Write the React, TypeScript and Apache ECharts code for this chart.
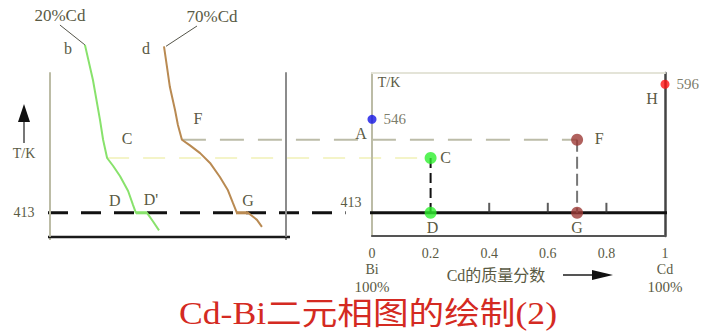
import React, { useEffect, useRef } from "react";
import * as echarts from "echarts";

// temperature range shared by both panels (K)
const TEMP_MIN = 380;
const TEMP_MAX = 612;
const EUTECTIC = 413;

// cooling curve b: 20% Cd sample  [time, T/K]
const curve20Time = [14.8, 18.2, 21.2, 22.5, 24.2, 26.7, 29.7, 33.1, 35.2, 36.4, 41.1, 43.6, 46.2];
const curve20Temp = [652, 602, 545, 517, 491, 480, 465, 444, 424, 413, 413, 401, 388];
const CURVE20_KNEE = 4;
const CURVE20_PLATEAU = [9, 10];

// cooling curve d: 70% Cd sample  [time, T/K]
const curve70Time = [48.3, 49.6, 50.8, 53.0, 54.2, 55.9, 59.3, 63.6, 67.8, 72.0, 75.4, 77.5, 79.2, 83.9, 87.7, 89.8];
const curve70Temp = [650, 620, 592, 559, 538, 517, 509, 498, 484, 464, 445, 427, 413, 413, 403, 393];
const CURVE70_KNEE = 5;
const CURVE70_PLATEAU = [12, 13];

// points of the phase diagram
const pointNames = ["A", "C", "D", "F", "G", "H"];
const pointCd = [0, 0.2, 0.2, 0.7, 0.7, 1];
const pointTemp = [546, 491, 413, 517, 413, 596];
const pointColors = ["#1414e6", "#2ef02e", "#2ef02e", "#9c3a36", "#9c3a36", "#ff1414"];

// small marks along the eutectic line
const eutecticTicks = [0.4, 0.6, 0.8];

const INK = "#5a5a44";
const SERIF = "'Liberation Serif', 'DejaVu Serif', serif";
const CJK = "'Liberation Serif', 'Noto Sans CJK SC', sans-serif";

const zip = (a: number[], b: number[]) => a.map((v, i) => [v, b[i]]);

function text(x: number, y: number, s: string, size = 15, extra: any = {}) {
  return {
    type: "text",
    x,
    y,
    silent: true,
    style: {
      text: s,
      fill: INK,
      fontSize: size,
      fontFamily: SERIF,
      textAlign: "center",
      textVerticalAlign: "middle",
      verticalAlign: "middle",
      ...extra,
    },
  };
}

function line(x1: number, y1: number, x2: number, y2: number, stroke: string, lineWidth = 1, lineDash?: number[]) {
  return {
    type: "line",
    silent: true,
    shape: { x1, y1, x2, y2 },
    style: { stroke, lineWidth, lineDash },
  };
}

export default function App() {
  const ref = useRef<HTMLDivElement>(null);

  useEffect(() => {
    if (!ref.current) return;
    const chart = echarts.init(ref.current, undefined, { renderer: "svg" });

    const hidden = { show: false };
    const axisLine = (color: string, width: number) => ({ show: true, onZero: false, lineStyle: { color, width } });
    const option: any = {
      animation: false,
      backgroundColor: "#ffffff",
      grid: [
        { left: 50, top: 73, width: 236, height: 163 },
        { left: 372, top: 73, width: 293, height: 163 },
      ],
      xAxis: [
        {
          gridIndex: 0, type: "value", min: 0, max: 100,
          axisLine: hidden, axisTick: hidden, axisLabel: hidden, splitLine: hidden,
        },
        {
          gridIndex: 1, type: "value", min: 0, max: 1, interval: 0.2,
          axisLine: axisLine("#555555", 2),
          axisTick: hidden, splitLine: hidden,
          axisLabel: { color: INK, fontFamily: SERIF, fontSize: 14, margin: 10 },
        },
        {
          gridIndex: 1, type: "value", min: 0, max: 1, position: "top",
          axisLine: axisLine("#e4e4d8", 2),
          axisTick: hidden, axisLabel: hidden, splitLine: hidden,
        },
      ],
      yAxis: [
        {
          gridIndex: 0, type: "value", min: TEMP_MIN, max: TEMP_MAX, position: "left",
          axisLine: axisLine("#bcbca6", 2),
          axisTick: hidden, axisLabel: hidden, splitLine: hidden,
        },
        {
          gridIndex: 0, type: "value", min: TEMP_MIN, max: TEMP_MAX, position: "right",
          axisLine: axisLine("#8c8c8c", 2),
          axisTick: hidden, axisLabel: hidden, splitLine: hidden,
        },
        {
          gridIndex: 1, type: "value", min: TEMP_MIN, max: TEMP_MAX, position: "left",
          axisLine: axisLine("#bcbca6", 2),
          axisTick: hidden, axisLabel: hidden, splitLine: hidden,
        },
        {
          gridIndex: 1, type: "value", min: TEMP_MIN, max: TEMP_MAX, position: "right",
          axisLine: axisLine("#444444", 2.5),
          axisTick: hidden, axisLabel: hidden, splitLine: hidden,
        },
      ],
      series: [
        {
          name: "20%Cd", type: "line", xAxisIndex: 0, yAxisIndex: 0, clip: false,
          data: zip(curve20Time, curve20Temp), symbol: "none",
          lineStyle: { color: "#88e26c", width: 2 }, z: 4,
        },
        {
          name: "70%Cd", type: "line", xAxisIndex: 0, yAxisIndex: 0, clip: false,
          data: zip(curve70Time, curve70Temp), symbol: "none",
          lineStyle: { color: "#b98a52", width: 2 }, z: 4,
        },
        {
          name: "eutectic", type: "line", xAxisIndex: 1, yAxisIndex: 2, clip: false,
          data: [[-0.048, EUTECTIC], [1.007, EUTECTIC]], symbol: "none",
          lineStyle: { color: "#111111", width: 3 }, z: 3,
        },
        {
          name: "CD", type: "line", xAxisIndex: 1, yAxisIndex: 2,
          data: [[pointCd[1], pointTemp[1]], [pointCd[2], pointTemp[2]]], symbol: "none",
          lineStyle: { color: "#111111", width: 2, type: [10, 5] }, z: 3,
        },
        {
          name: "FG", type: "line", xAxisIndex: 1, yAxisIndex: 2,
          data: [[pointCd[3], pointTemp[3]], [pointCd[4], pointTemp[4]]], symbol: "none",
          lineStyle: { color: "#777777", width: 2, type: [12, 5] }, z: 3,
        },
        {
          name: "ticks", type: "scatter", xAxisIndex: 1, yAxisIndex: 2,
          data: eutecticTicks.map((x) => [x, EUTECTIC]),
          symbol: "rect", symbolSize: [2, 10], symbolOffset: [0, -5],
          itemStyle: { color: "#333333" }, z: 4,
        },
        {
          name: "points", type: "scatter", xAxisIndex: 1, yAxisIndex: 2, clip: false,
          data: pointNames.map((n, i) => ({
            name: n,
            value: [pointCd[i], pointTemp[i]],
            symbolSize: n === "A" || n === "H" ? 9 : 12,
            itemStyle: { color: pointColors[i] },
            label: {
              show: n === "A" || n === "H",
              position: "right",
              distance: 7,
              formatter: (p: any) => String(p.value[1]),
              color: INK,
              fontFamily: SERIF,
              fontSize: 15,
            },
          })),
          z: 6,
        },
      ],
    };
    chart.setOption(option);

    const L = (t: number, T: number) => chart.convertToPixel({ gridIndex: 0 }, [t, T]) as number[];
    const R = (x: number, T: number) => chart.convertToPixel({ gridIndex: 1 }, [x, T]) as number[];

    const b0 = L(curve20Time[0], curve20Temp[0]);
    const d0 = L(curve70Time[0], curve70Temp[0]);
    const kneeC = L(curve20Time[CURVE20_KNEE], curve20Temp[CURVE20_KNEE]);
    const kneeF = L(curve70Time[CURVE70_KNEE], curve70Temp[CURVE70_KNEE]);
    const dStart = L(curve20Time[CURVE20_PLATEAU[0]], curve20Temp[CURVE20_PLATEAU[0]]);
    const dEnd = L(curve20Time[CURVE20_PLATEAU[1]], curve20Temp[CURVE20_PLATEAU[1]]);
    const gEnd = L(curve70Time[CURVE70_PLATEAU[1]], curve70Temp[CURVE70_PLATEAU[1]]);

    const pts = pointNames.map((_, i) => R(pointCd[i], pointTemp[i]));
    const [pA, pC, pD, pF, pG, pH] = pts;
    const origin = R(0, TEMP_MIN);
    const end = R(1, TEMP_MIN);
    const eut = R(0, EUTECTIC);
    const leftEdge = L(0, TEMP_MIN);
    const leftTop = L(0, TEMP_MAX);
    const rightEdge = L(100, TEMP_MIN);
    const lineY = eut[1];

    const graphic: any[] = [
      // eutectic isotherm across the cooling-curve panel
      line(leftEdge[0] - 2, lineY, R(-0.09, EUTECTIC)[0], lineY, "#111111", 3, [20, 13]),
      // horizontal guides from the curve breaks to the diagram
      line(kneeF[0], kneeF[1], pF[0], pF[1], "#bcbca8", 2, [24, 14]),
      line(kneeC[0], kneeC[1], pC[0], pC[1], "#f4f4c8", 2, [22, 14]),
      // plateau highlights on both curves
      line(dStart[0], dStart[1], dEnd[0], dEnd[1], "#88e26c", 3),
      line(gEnd[0] - 12, gEnd[1], gEnd[0], gEnd[1], "#b98a52", 3),
      // frame of the cooling-curve panel
      line(leftEdge[0], leftTop[1], leftEdge[0], leftEdge[1] + 4, "#bcbca6", 2),
      line(rightEdge[0], leftTop[1], rightEdge[0], leftEdge[1] + 4, "#8c8c8c", 2),
      line(leftEdge[0] - 2, leftEdge[1] + 1, rightEdge[0] + 4, leftEdge[1] + 1, "#1a1a1a", 2.5),
      // composition labels with leader lines
      text(b0[0] - 25, 15, "20%Cd", 17),
      line(b0[0] - 25, 25, b0[0], b0[1], "#55554a", 1),
      text(d0[0] + 48, 16, "70%Cd", 17),
      line(d0[0] + 33, 26, d0[0] + 2, d0[1], "#55554a", 1),
      text(b0[0] - 17, b0[1] + 4, "b", 16),
      text(d0[0] - 18, d0[1] + 2, "d", 16),
      text(kneeC[0] + 20, kneeC[1] - 20, "C", 16),
      text(kneeF[0] + 16, kneeF[1] - 21, "F", 16),
      text(dStart[0] - 21, dStart[1] - 12, "D", 16),
      text(dEnd[0] + 4, dEnd[1] - 13, "D'", 16),
      text(gEnd[0], gEnd[1] - 12, "G", 16),
      // temperature arrow on the left
      line(24, 143, 24, 118, "#777777", 2),
      { type: "polygon", silent: true, shape: { points: [[24, 104], [18, 122], [30, 122]] }, style: { fill: "#111111" } },
      text(24, 153, "T/K", 14),
      text(24, 212, String(EUTECTIC), 14),
      text(eut[0] - 21, lineY - 10, String(EUTECTIC), 14),
      // right panel annotations
      text(origin[0] + 17, 82, "T/K", 14),
      text(pA[0] - 11, pA[1] + 14, "A", 16),
      text(pH[0] - 13, pH[1] + 14, "H", 16),
      text(pC[0] + 15, pC[1] - 1, "C", 16),
      text(pD[0] + 2, pD[1] + 15, "D", 16),
      text(pF[0] + 22, pF[1] - 1, "F", 16),
      text(pG[0], pG[1] + 15, "G", 16),
      text(origin[0], origin[1] + 33, "Bi", 14),
      text(origin[0], origin[1] + 51, "100%", 15),
      text(end[0], origin[1] + 33, "Cd", 14),
      text(end[0], origin[1] + 51, "100%", 15),
      text(496, origin[1] + 39, "Cd的质量分数", 16, { fontFamily: CJK }),
      line(563, origin[1] + 39, 598, origin[1] + 39, "#555555", 2),
      { type: "polygon", silent: true, shape: { points: [[613, origin[1] + 39], [592, origin[1] + 34], [592, origin[1] + 44]] }, style: { fill: "#111111" } },
      // title
      { ...text(368, 313, "Cd-Bi二元相图的绘制(2)", 31, { fill: "#d42a22", fontFamily: CJK }), scaleX: 1.15 },
    ];

    chart.setOption({ graphic });

    return () => chart.dispose();
  }, []);

  return (
    <div
      ref={ref}
      style={{ position: "absolute", left: 0, top: 0, width: 709, height: 333, background: "#fff" }}
    />
  );
}
